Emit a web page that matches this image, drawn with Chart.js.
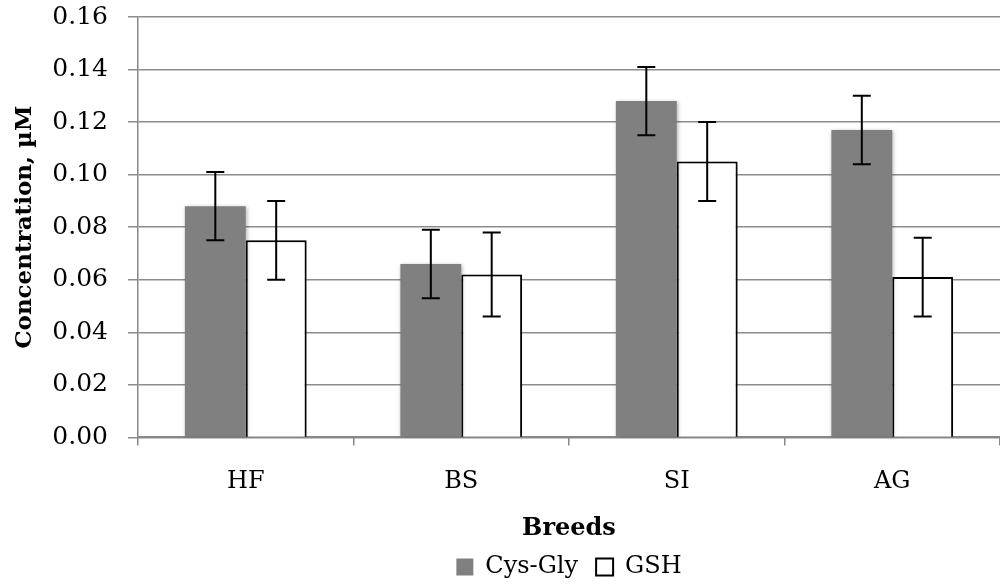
<!DOCTYPE html>
<html>
<head>
<meta charset="utf-8">
<script src="https://cdn.jsdelivr.net/npm/chart.js@4.4.0/dist/chart.umd.min.js"></script>
<style>
  html, body { margin: 0; padding: 0; background: #fff; }
  #wrap { width: 1000px; height: 585px; }
</style>
</head>
<body>
<div id="wrap"><canvas id="chart" width="1000" height="585"></canvas></div>
<script>
// datos
const breeds = ["HF", "BS", "SI", "AG"];
const cysGly = [0.088, 0.066, 0.128, 0.117];
const cysGlyErr = [0.013, 0.013, 0.013, 0.013];
const gsh = [0.075, 0.062, 0.105, 0.061];
const gshErr = [0.015, 0.016, 0.015, 0.015];
const yTicks = [0, 0.02, 0.04, 0.06, 0.08, 0.10, 0.12, 0.14, 0.16];

const serif = "'DejaVu Serif', serif";

// barras de error dibujadas con las escalas del grafico
const errorBars = {
  id: "errorBars",
  afterDatasetsDraw(chart) {
    const ctx = chart.ctx;
    const y = chart.scales.y;
    ctx.save();
    ctx.strokeStyle = "#000";
    ctx.lineWidth = 2;
    chart.data.datasets.forEach((ds, i) => {
      const meta = chart.getDatasetMeta(i);
      meta.data.forEach((bar, j) => {
        const v = ds.data[j], e = ds.errors[j];
        const top = y.getPixelForValue(v + e);
        const bot = y.getPixelForValue(v - e);
        ctx.beginPath();
        ctx.moveTo(bar.x, top); ctx.lineTo(bar.x, bot);
        ctx.moveTo(bar.x - 9, top); ctx.lineTo(bar.x + 9, top);
        ctx.moveTo(bar.x - 9, bot); ctx.lineTo(bar.x + 9, bot);
        ctx.stroke();
      });
    });
    ctx.restore();
  }
};

// sombra suave bajo las barras
const barShadow = {
  id: "barShadow",
  beforeDatasetsDraw(chart) {
    const ctx = chart.ctx;
    ctx.save();
    ctx.shadowColor = "rgba(0,0,0,0.3)";
    ctx.shadowBlur = 4;
    ctx.shadowOffsetX = 1;
    ctx.shadowOffsetY = 1;
  },
  afterDatasetsDraw(chart) {
    chart.ctx.restore();
  }
};

new Chart(document.getElementById("chart"), {
  type: "bar",
  data: {
    labels: breeds,
    datasets: [
      {
        label: "Cys-Gly",
        data: cysGly,
        errors: cysGlyErr,
        backgroundColor: "#808080",
        borderWidth: 0
      },
      {
        label: "GSH",
        data: gsh,
        errors: gshErr,
        backgroundColor: "#ffffff",
        borderColor: "#000000",
        borderWidth: 2
      }
    ]
  },
  options: {
    responsive: false,
    animation: false,
    layout: { padding: { top: 0, right: 0, left: 11, bottom: -4 } },
    datasets: { bar: { categoryPercentage: 0.565, barPercentage: 1.0 } },
    scales: {
      x: {
        grid: { display: true, drawOnChartArea: false, color: "#888", lineWidth: 1.5, tickLength: 8, offset: true },
        border: { color: "#888", width: 2 },
        ticks: { color: "#000", font: { family: serif, size: 24 }, padding: 22 },
        title: { display: true, text: "Breeds", color: "#000", font: { family: serif, size: 24, weight: "bold" }, padding: { top: -4, bottom: -6 } }
      },
      y: {
        min: 0,
        max: 0.16,
        afterBuildTicks(axis) { axis.ticks = yTicks.map(v => ({ value: v })); },
        // ancho fijo del eje y margen superior como en la imagen
        afterFit(axis) { axis.width = 127; axis.paddingTop = 17; axis.paddingBottom = 0; },
        grid: { color: "#8c8c8c", lineWidth: 1.5, tickLength: 10 },
        border: { color: "#888", width: 1.5 },
        ticks: { color: "#000", font: { family: serif, size: 25 }, padding: 20, callback: v => v.toFixed(2) },
        title: { display: true, text: "Concentration, µM", color: "#000", font: { family: serif, size: 23, weight: "bold" }, padding: 0 }
      }
    },
    plugins: {
      legend: {
        position: "bottom",
        fullSize: false,
        labels: {
          color: "#000",
          font: { family: serif, size: 24 },
          boxWidth: 17,
          boxHeight: 17,
          padding: 18
        }
      },
      tooltip: { enabled: false }
    }
  },
  plugins: [barShadow, errorBars]
});
</script>
</body>
</html>
